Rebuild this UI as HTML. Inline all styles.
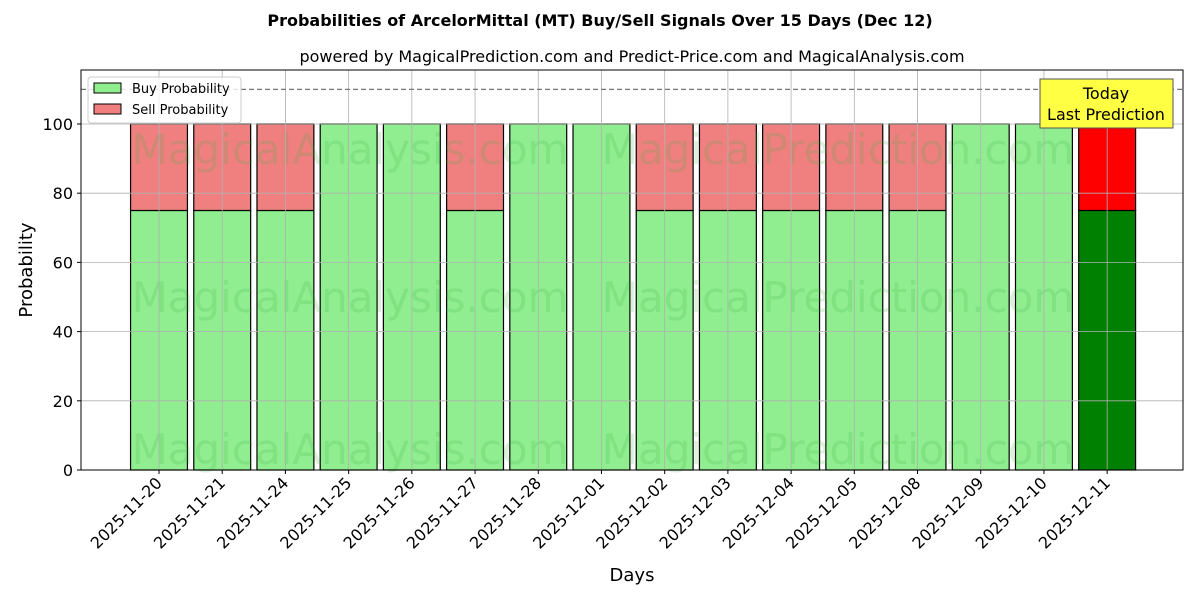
<!DOCTYPE html>
<html><head><meta charset="utf-8"><style>
body{margin:0;background:#fff}
svg text{font-family:"DejaVu Sans","Liberation Sans",sans-serif}
</style></head><body>
<svg id="chart" width="1200" height="600" xmlns="http://www.w3.org/2000/svg">
<text x="600" y="26" text-anchor="middle" font-size="16" font-weight="bold">Probabilities of ArcelorMittal (MT) Buy/Sell Signals Over 15 Days (Dec 12)</text>
<text x="632" y="62" text-anchor="middle" font-size="16">powered by MagicalPrediction.com and Predict-Price.com and MagicalAnalysis.com</text>
<g id="plot"></g>
</svg>
<script>
const categories=["2025-11-20","2025-11-21","2025-11-24","2025-11-25","2025-11-26","2025-11-27","2025-11-28","2025-12-01","2025-12-02","2025-12-03","2025-12-04","2025-12-05","2025-12-08","2025-12-09","2025-12-10","2025-12-11"];
const buyValues=[75,75,75,100,100,75,100,100,75,75,75,75,75,100,100,75];
const sellValues=[25,25,25,0,0,25,0,0,25,25,25,25,25,0,0,25];
const yTicks=[0,20,40,60,80,100];
const NS="http://www.w3.org/2000/svg";
const L=81,R=1183,T=70,B=470;
const xmin=-1.234,xmax=16.2,ymax=115.6;
const xs=i=>L+(i-xmin)/(xmax-xmin)*(R-L);
const ys=v=>B-v/ymax*(B-T);
const g=document.getElementById('plot');
function mk(tag,attrs,parent){const e=document.createElementNS(NS,tag);for(const k in attrs)e.setAttribute(k,attrs[k]);(parent||g).appendChild(e);return e;}
const bw=0.9*(R-L)/(xmax-xmin);
categories.forEach((c,i)=>{
 const last=i===categories.length-1;
 const b=mk('rect',{x:xs(i)-bw/2,y:ys(buyValues[i]),width:bw,height:ys(0)-ys(buyValues[i]),fill:last?'#008000':'#90ee90',stroke:'#000','stroke-width':1.2});
 
 
 if(sellValues[i]>0){
  const s=mk('rect',{x:xs(i)-bw/2,y:ys(buyValues[i]+sellValues[i]),width:bw,height:ys(buyValues[i])-ys(buyValues[i]+sellValues[i]),fill:last?'#ff0000':'#f08080',stroke:'#000','stroke-width':1.2});
  
  
 }
});
// watermarks
[[350,150],[838,150],[350,298],[838,298],[350,450],[838,450]].forEach((p,k)=>{
 const t=mk('text',{x:p[0],y:p[1]+14,'text-anchor':'middle','font-size':42,fill:'rgba(60,170,60,0.18)'});
 
 
 t.textContent=k%2==0?'MagicalAnalysis.com':'MagicalPrediction.com';
});
// grid
categories.forEach((c,i)=>{
 const l=mk('line',{x1:xs(i),x2:xs(i),y1:T,y2:B,stroke:'#b0b0b0','stroke-width':0.8});
 
 
 mk('line',{x1:xs(i),x2:xs(i),y1:B,y2:B+4,stroke:'#000'});
 const t=mk('text',{x:0,y:0,'text-anchor':'end','font-size':16,transform:`translate(${xs(i)+4},${B+14}) rotate(-45)`});
 
 
 t.textContent=c;
});
yTicks.forEach(v=>{
 const l=mk('line',{x1:L,x2:R,y1:ys(v),y2:ys(v),stroke:'#b0b0b0','stroke-width':0.8});
 
 
 mk('line',{x1:L-4,x2:L,y1:ys(v),y2:ys(v),stroke:'#000'});
 const t=mk('text',{x:L-8,y:ys(v)+6,'text-anchor':'end','font-size':16});
 
 
 t.textContent=v;
});
const d=mk('line',{x1:L,x2:R,y1:ys(110),y2:ys(110),stroke:'#777','stroke-width':1.2,'stroke-dasharray':'5,3'});


const f=mk('rect',{x:L,y:T,width:R-L,height:B-T,fill:'none',stroke:'#000','stroke-width':1});


// legend
const lg=mk('g',{});


mk('rect',{x:88,y:77,width:153,height:46,rx:3,fill:'rgba(255,255,255,0.8)',stroke:'#ccc'},lg);
[['Buy Probability','#90ee90',89],['Sell Probability','#f08080',110]].forEach(e=>{
 mk('rect',{x:94,y:e[2]-6,width:27,height:10,fill:e[1],stroke:'#000'},lg);
 const t=mk('text',{x:132,y:e[2]+4,'font-size':13},lg);
 
 
 t.textContent=e[0];
});
// annotation
const an=mk('g',{});


mk('rect',{x:1040,y:79,width:133,height:49,fill:'#ffff44',stroke:'#555'},an);
const a1=mk('text',{x:1106,y:99,'text-anchor':'middle','font-size':16},an);a1.textContent='Today';
const a2=mk('text',{x:1106,y:120,'text-anchor':'middle','font-size':16},an);a2.textContent='Last Prediction';
const xl=mk('text',{x:632,y:581,'text-anchor':'middle','font-size':18});


xl.textContent='Days';
const yl=mk('text',{x:0,y:0,'text-anchor':'middle','font-size':18,transform:'translate(32,270) rotate(-90)'});


yl.textContent='Probability';
</script>
</body></html>
